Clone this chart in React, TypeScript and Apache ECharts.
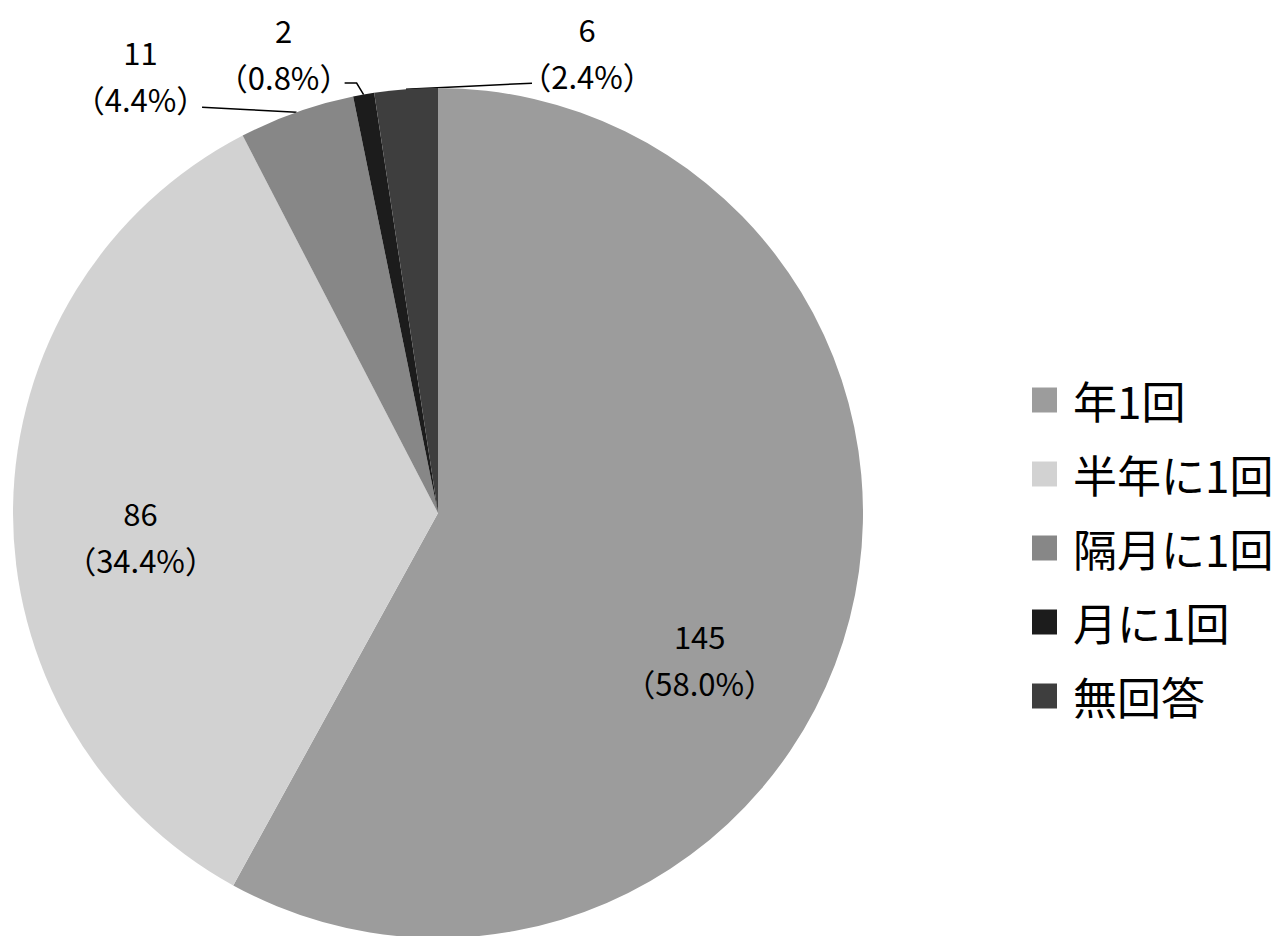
import React, { useEffect, useRef } from "react";
import * as echarts from "echarts";

const categories = ["年1回", "半年に1回", "隔月に1回", "月に1回", "無回答"];
const counts = [145, 86, 11, 2, 6];
const colors = ["#9c9c9c", "#d2d2d2", "#878787", "#1c1c1c", "#3e3e3e"];

const FONT = '"Noto Sans CJK JP", "Noto Sans", sans-serif';

// label offsets (inside labels: shift from default inside spot; outside labels: from slice edge anchor)
const insideShift: Record<number, [number, number]> = {
  0: [53, 92],
  1: [-82, 26],
};
const outsideShift: Record<number, { pos: [number, number]; line: [number, number][] }> = {
  2: { pos: [-156, -37], line: [[-47, -2.5], [-94.5, -5]] },
  3: { pos: [-80, -42], line: [[-7, -11.5], [-19, -11.5]] },
  4: { pos: [181, -37], line: [[63, -3], [126, -6]] },
};

export default function App() {
  const ref = useRef<HTMLDivElement>(null);
  useEffect(() => {
    if (!ref.current) return;
    const chart = echarts.init(ref.current, undefined, { renderer: "svg" });
    const data = categories.map((name, i) => {
      const inside = i < 2;
      return {
        name,
        value: counts[i],
        itemStyle: { color: colors[i] },
        label: { position: inside ? "inside" : "outside" },
        labelLine: { show: !inside },
      };
    });
    chart.setOption({
      animation: false,
      backgroundColor: "#ffffff",
      legend: {
        orient: "vertical",
        left: 1032,
        top: 378,
        padding: 0,
        itemWidth: 25,
        itemHeight: 25,
        itemGap: 30,
        icon: "rect",
        selectedMode: false,
        textStyle: {
          fontFamily: FONT,
          fontSize: 44,
          lineHeight: 44,
          color: "#000",
          padding: [0, 0, 0, 11],
        },
        data: categories,
      },
      series: [
        {
          type: "pie",
          center: [438, 513],
          radius: [0, 425],
          startAngle: 90,
          clockwise: true,
          avoidLabelOverlap: false,
          silent: true,
          label: {
            show: true,
            color: "#000",
            fontFamily: FONT,
            fontSize: 31,
            lineHeight: 47,
            textBorderWidth: 0,
            formatter: (p: any) => `${p.value}\n（${p.percent.toFixed(1)}%）`,
          },
          labelLine: {
            show: true,
            length: 10,
            length2: 10,
            smooth: false,
            lineStyle: { color: "#000", width: 1.5 },
          },
          labelLayout: (params: any) => {
            const i = params.dataIndex;
            if (insideShift[i]) {
              return { dx: insideShift[i][0], dy: insideShift[i][1] };
            }
            const cfg = outsideShift[i];
            const pts = params.labelLinePoints;
            if (!cfg || !pts) return {};
            const ax = pts[0][0];
            const ay = pts[0][1];
            return {
              x: ax + cfg.pos[0],
              y: ay + cfg.pos[1],
              align: "center",
              verticalAlign: "middle",
              labelLinePoints: [
                [ax, ay],
                [ax + cfg.line[0][0], ay + cfg.line[0][1]],
                [ax + cfg.line[1][0], ay + cfg.line[1][1]],
              ],
            };
          },
          data,
        },
      ],
    });
    return () => chart.dispose();
  }, []);
  return (
    <div
      ref={ref}
      style={{ position: "fixed", left: 0, top: 0, width: 1285, height: 936, background: "#fff" }}
    />
  );
}
